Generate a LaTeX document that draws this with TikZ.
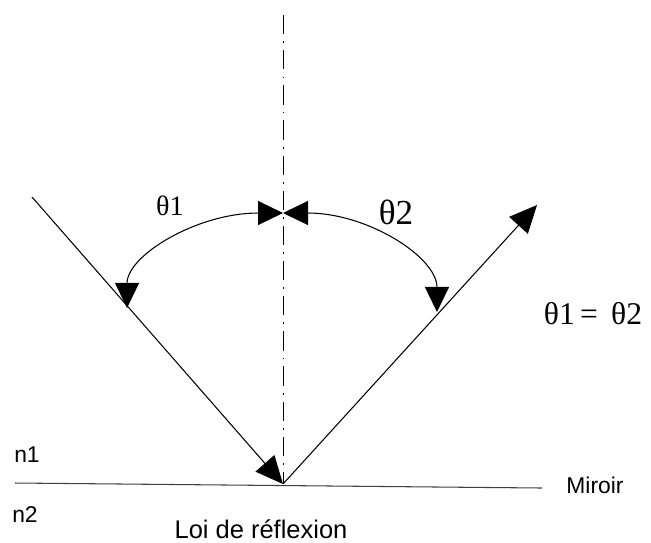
\documentclass[tikz,border=0pt]{standalone}
\usepackage{fontspec}
\setmainfont{Liberation Sans}
\newfontfamily\greekfont{Liberation Serif}
\usetikzlibrary{arrows.meta}

\tikzset{
  ray/.style={line width=0.6pt, -{Triangle[length=0.55cm, width=0.5cm]}},
  anglearc/.style={line width=0.6pt, {Triangle[length=0.5cm, width=0.48cm]}-{Triangle[length=0.5cm, width=0.48cm]}},
  txt/.style={inner sep=0pt, font=\fontsize{13}{15}\selectfont},
  greektxt/.style={inner sep=0pt, font=\greekfont\fontsize{18}{20}\selectfont}
}

\begin{document}
\begin{tikzpicture}[x=0.02cm, y=-0.02cm]
    \useasboundingbox (0,0) rectangle (651,542);

    % Points
    \coordinate (O) at (283,484);
    \coordinate (N) at (283,15);
    \coordinate (S) at (32,197);
    \coordinate (R) at (537,205);
    \coordinate (T) at (283,213);
    \coordinate (ml) at (15,483);
    \coordinate (mr) at (542,488);

    % Normal and mirror
    \draw[line width=0.5pt, dash pattern=on 11pt off 4pt on 1pt off 4pt] (N) -- (O);
    \draw[line width=0.6pt, black!75] (ml) -- (mr);

    % Incident and reflected rays
    \draw[ray] (S) -- (O);
    \draw[ray] (O) -- (R);

    % Angles
    \draw[anglearc] (T) arc[start angle=90, end angle=180, x radius=3.12cm, y radius=1.9cm];
    \draw[anglearc] (T) arc[start angle=90, end angle=0, x radius=3.08cm, y radius=1.98cm];

    % Labels
    \node[greektxt, font=\greekfont\fontsize{16}{18}\selectfont] (th1) at (170,206) {θ1};
    \node[greektxt, font=\greekfont\fontsize{20}{22}\selectfont] (th2) at (396,212) {θ2};
    \node[greektxt] (eq) at (593,314) {θ1\,= \,θ2};
    \node[txt] (n1) at (27,455) {n1};
    \node[txt] (n2) at (25,515) {n2};
    \node[txt] (mir) at (595,485) {Miroir};
    \node[txt, font=\fontsize{14.5}{16}\selectfont] (loi) at (261,529) {Loi de réflexion};
\end{tikzpicture}
\end{document}
